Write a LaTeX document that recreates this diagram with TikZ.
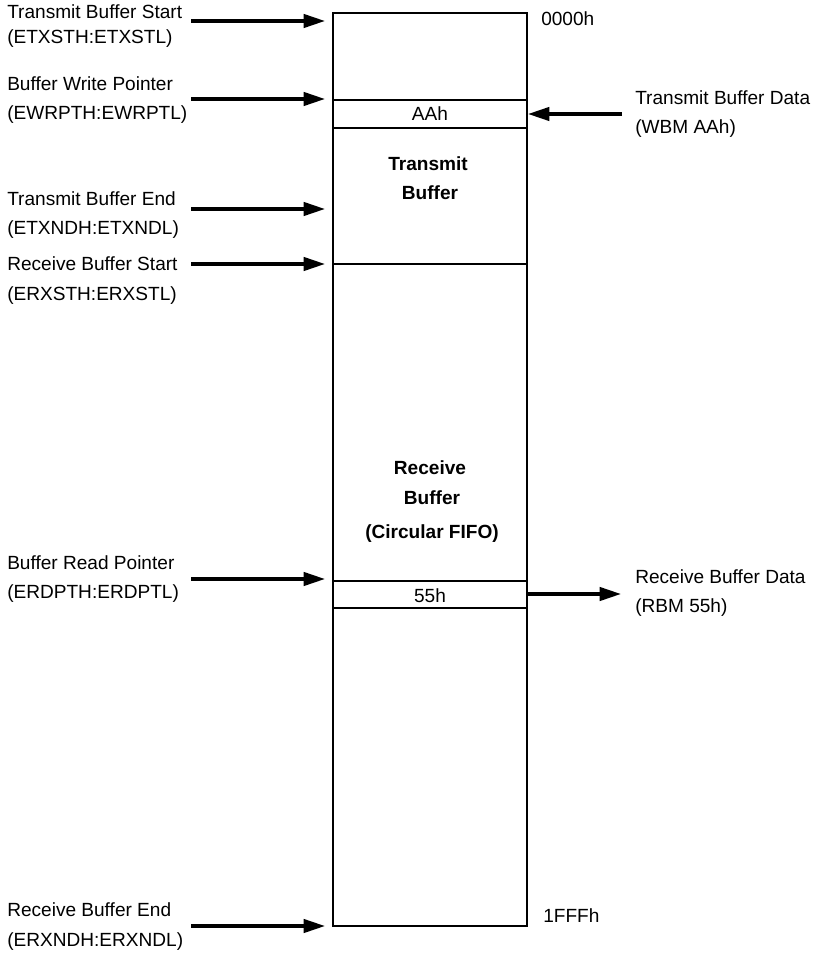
\documentclass[tikz,border=0pt]{standalone}
\usepackage{fontspec}
\setmainfont{Liberation Sans}
\usetikzlibrary{arrows.meta}
\tikzset{
	lbl/.style={anchor=west, align=left, inner sep=0pt, font=\fontsize{14.3}{21.5}\selectfont},
	cell/.style={inner sep=0pt, font=\fontsize{14.3}{21.5}\selectfont},
	title/.style={cell, font=\fontsize{14.3}{21.5}\selectfont\bfseries},
	box/.style={line width=1.5pt},
	ptr/.style={line width=2.4pt, -{Triangle[length=16pt,width=10pt]}},
}
\begin{document}
\begin{tikzpicture}[x=0.75pt,y=-0.75pt]
	\useasboundingbox (0,0) rectangle (817,955);
	% memory block
	\coordinate (tl) at (333,13);
	\coordinate (br) at (527,926);
	\draw[box] (tl) rectangle (br);
	\foreach \y in {100,128,264,581,608}
		\draw[box] (333,\y) -- (527,\y);
	\node[cell] (aah) at (430,114) {AAh};
	\node[cell] (five) at (430,596) {55h};
	\node[title] (tx1) at (428,164) {Transmit};
	\node[title] (tx2) at (430,193) {Buffer};
	\node[title] (rx1) at (430,468) {Receive};
	\node[title] (rx2) at (432,498) {Buffer};
	\node[title] (rx3) at (432,534) {(Circular FIFO)};
	\node[lbl] (top) at (541,19) {0000h};
	\node[lbl] (bot) at (543,916) {1FFFh};
	% left pointers
	\node[lbl] (tbs) at (7,26) {Transmit Buffer Start\\[-2.5pt](ETXSTH:ETXSTL)};
	\node[lbl] (bwp) at (7,100) {Buffer Write Pointer\\(EWRPTH:EWRPTL)};
	\node[lbl] (tbe) at (7,215) {Transmit Buffer End\\(ETXNDH:ETXNDL)};
	\node[lbl] (rbs) at (7,281) {Receive Buffer Start\\[1pt](ERXSTH:ERXSTL)};
	\node[lbl] (brp) at (7,579) {Buffer Read Pointer\\(ERDPTH:ERDPTL)};
	\node[lbl] (rbe) at (7,927) {Receive Buffer End\\[1pt](ERXNDH:ERXNDL)};
	\foreach \n/\y in {tbs/21,bwp/99,tbe/209,rbs/264,brp/579,rbe/926} {
		\coordinate (\n-a) at (191,\y);
		\coordinate (\n-b) at (325,\y);
		\draw[ptr] (\n-a) -- (\n-b);
	}
	% right side
	\node[lbl] (tbd) at (635,114) {Transmit Buffer Data\\(WBM AAh)};
	\node[lbl] (rbd) at (635,593) {Receive Buffer Data\\(RBM 55h)};
	\coordinate (wbm) at (622,114);
	\coordinate (wbm-b) at (528,114);
	\coordinate (rbm) at (527,594);
	\coordinate (rbm-b) at (621,594);
	\draw[ptr] (wbm) -- (wbm-b);
	\draw[ptr] (rbm) -- (rbm-b);
\end{tikzpicture}
\end{document}
